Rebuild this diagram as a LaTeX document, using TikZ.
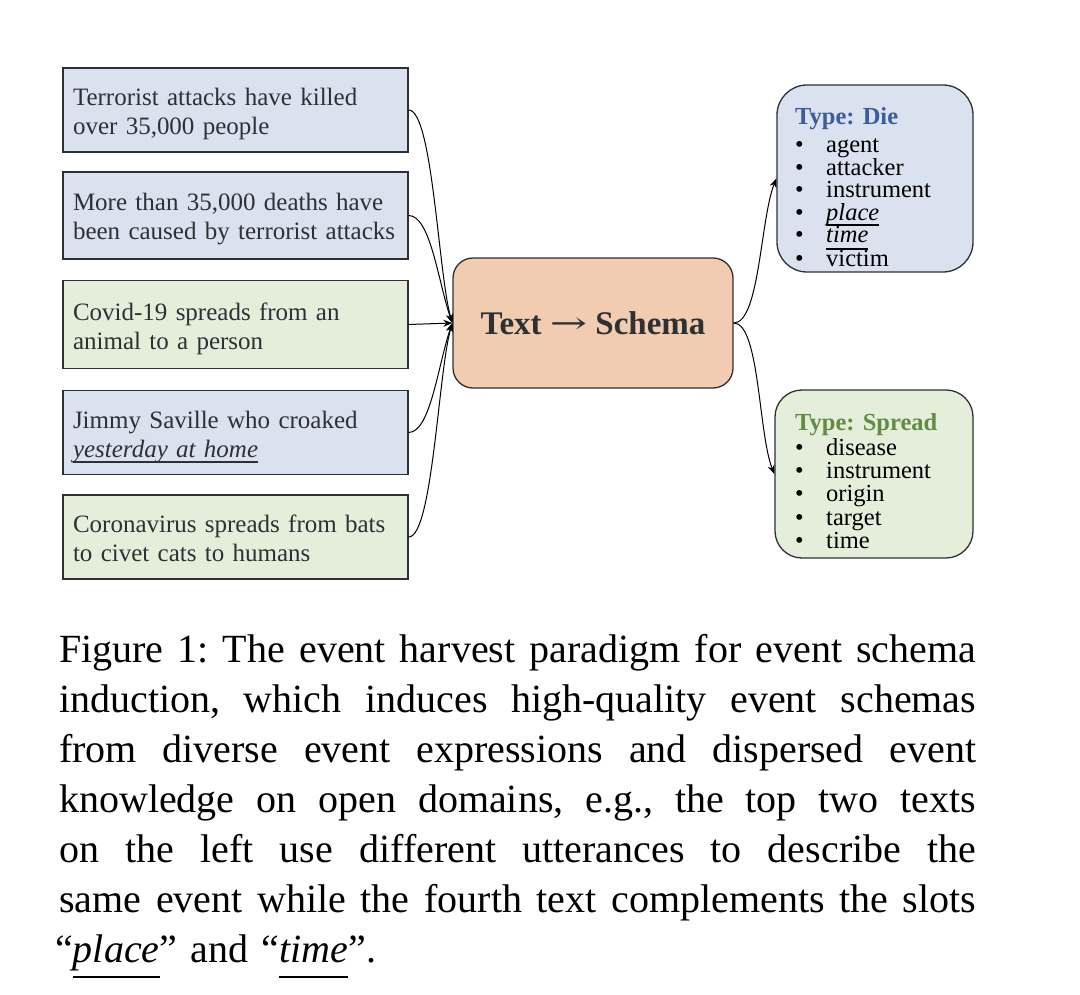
\documentclass[tikz,border=0pt]{standalone}
\usepackage{fontspec}
\setmainfont{Liberation Serif}
\newfontfamily\arrowfont{DejaVu Serif}
\usepackage{graphicx}
\usepackage{xcolor}
\usepackage{tikz}
\usetikzlibrary{positioning,arrows.meta}

\definecolor{sentblue}{RGB}{218,226,240}
\definecolor{sentgreen}{RGB}{228,238,218}
\definecolor{schemapeach}{RGB}{242,204,176}
\definecolor{dieblue}{RGB}{60,92,155}
\definecolor{spreadgreen}{RGB}{98,140,66}
\definecolor{inkgray}{RGB}{45,48,52}

% underline at a fixed depth below the baseline
\newcommand\slotul[2][0.25em]{\leavevmode\setbox0\hbox{#2}\rlap{\rule[-#1]{\wd0}{0.06em}}\box0}
\newcommand\bul{\makebox[31pt][l]{\textbullet}}
% one justified caption line
\newcommand\capline[1]{\leavevmode\hbox to 917pt{\spaceskip=0.25em plus 1fil\xspaceskip=\spaceskip #1}}

\begin{document}
\frenchspacing
\begin{tikzpicture}[x=1pt,y=-1pt,
    sent/.style={draw=inkgray,line width=1.3pt,minimum width=345pt,inner xsep=10pt,text width=325pt,
      align=left,text height=26pt,text depth=35pt,font=\fontsize{25}{29}\selectfont,text=inkgray},
    schemabox/.style={draw=inkgray,line width=1.3pt,rounded corners=#1},
    slots/.style={anchor=base west,text width=175pt,align=left,inner sep=0pt},
    link/.style={line width=1pt,-{Stealth[length=9pt,width=7pt]}}]
    \useasboundingbox (0,0) rectangle (1080,995);

    \node[sent,fill=sentblue,minimum height=84pt] (kill) at (235.5,110) {Terrorist attacks have killed\\over 35,000 people};
    \node[sent,fill=sentblue,minimum height=87pt] (death) at (235.5,215.5) {More than 35,000 deaths have\\been caused by terrorist attacks};
    \node[sent,fill=sentgreen,minimum height=88pt] (covid) at (235.5,324.5) {Covid-19 spreads from an\\animal to a person};
    \node[sent,fill=sentblue,minimum height=84pt] (jimmy) at (235.5,432.5) {Jimmy Saville who croaked\\\slotul[0.24em]{\itshape yesterday at home}};
    \node[sent,fill=sentgreen,minimum height=84pt] (corona) at (235.5,537) {Coronavirus spreads from bats\\to civet cats to humans};

    \node[schemabox=20pt,fill=schemapeach,minimum width=280pt,minimum height=130pt,
      font=\fontsize{33}{36}\selectfont\bfseries,text=inkgray] (t2s) at (593,323)
      {Text \raisebox{1pt}{\scalebox{1.35}[0.9]{\arrowfont\mdseries →}} Schema};

    \node[schemabox=30pt,fill=sentblue,minimum width=196pt,minimum height=187pt] (die) at (875,178.5) {};
    \node[slots,font=\fontsize{24.5}{22.5}\selectfont] (dieslots) at (795,125) {%
      {\bfseries\color{dieblue}Type: Die}\\[5.2pt]
      \bul agent\\ \bul attacker\\ \bul instrument\\
      \bul\slotul[0.22em]{\itshape place}\\ \bul\slotul[0.28em]{\itshape time}\\ \bul victim};

    \node[schemabox=27pt,fill=sentgreen,minimum width=198pt,minimum height=168pt] (spread) at (874,474) {};
    \node[slots,font=\fontsize{24.5}{23.1}\selectfont] (spreadslots) at (795,430) {%
      {\bfseries\color{spreadgreen}Type: Spread}\\[2.6pt]
      \bul disease\\ \bul instrument\\ \bul origin\\ \bul target\\ \bul time};

    % texts into the harvester
    \draw[link] (kill.east) .. controls +(24,0) and +(-14,-48) .. (t2s.west);
    \draw[link] (death.east) .. controls +(22,0) and +(-14,-40) .. (t2s.west);
    \draw[link] (covid.east) -- (t2s.west);
    \draw[link] (jimmy.east) .. controls +(22,0) and +(-14,40) .. (t2s.west);
    \draw[link] (corona.east) .. controls +(24,0) and +(-14,48) .. (t2s.west);
    % harvested schemas
    \draw[link] (t2s.east) .. controls +(26,0) and +(-16,40) .. (die.west);
    \draw[link] (t2s.east) .. controls +(26,0) and +(-16,-40) .. (spread.west);

    \node[anchor=base west,inner sep=0pt,text width=920pt,align=left,
      font=\fontsize{40}{50}\selectfont] (caption) at (59,662) {%
      \capline{Figure 1: The event harvest paradigm for event schema}\\
      \capline{induction, which induces high-quality event schemas}\\
      \capline{from diverse event expressions and dispersed event}\\
      \capline{knowledge on open domains, e.g., the top two texts}\\
      \capline{on the left use different utterances to describe the}\\
      \capline{same event while the fourth text complements the slots}\\
      \hspace*{-4pt}“\slotul[0.4em]{\itshape place}” and “\slotul[0.4em]{\itshape time}”.};
\end{tikzpicture}
\end{document}
